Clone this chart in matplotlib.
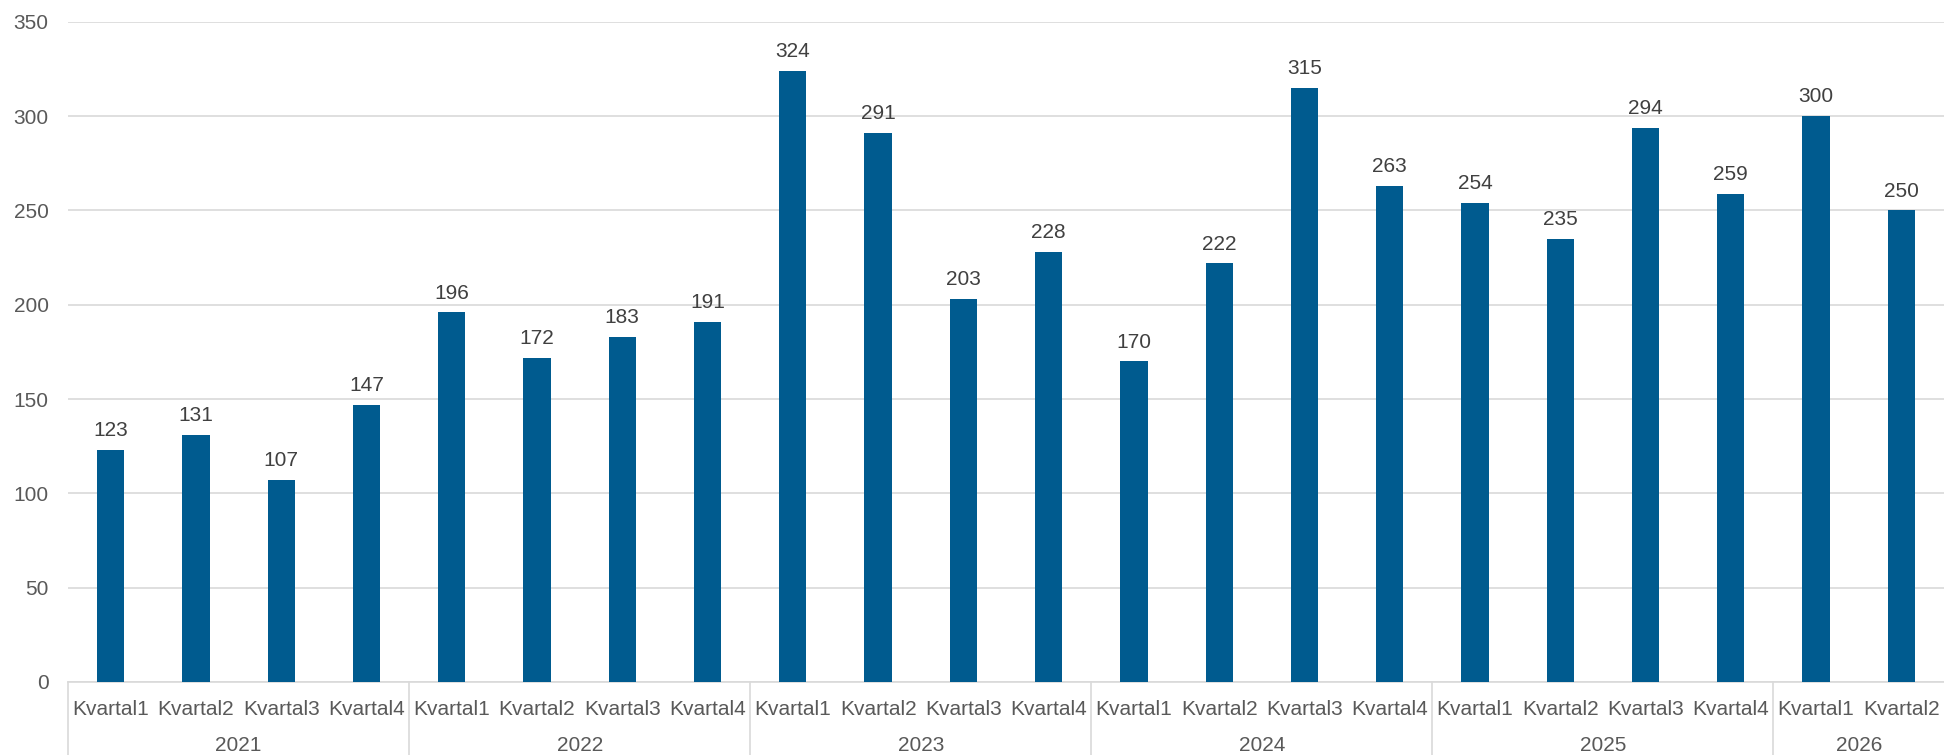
import matplotlib.pyplot as plt
import matplotlib.transforms as mtransforms
import numpy as np

# Data
years = ["2021", "2022", "2023", "2024", "2025", "2026"]
quarters_per_year = [4, 4, 4, 4, 4, 2]
quarter_labels = ["Kvartal1", "Kvartal2", "Kvartal3", "Kvartal4"]
values = [123, 131, 107, 147,
          196, 172, 183, 191,
          324, 291, 203, 228,
          170, 222, 315, 263,
          254, 235, 294, 259,
          300, 250]

bar_color = "#005B8F"
text_color = "#595959"
label_color = "#404040"
grid_color = "#D9D9D9"

plt.rcParams['font.family'] = ['Liberation Sans', 'DejaVu Sans']

fig = plt.figure(figsize=(19.44, 7.55), dpi=100)
ax = fig.add_axes([0.035, 0.0967, 0.965, 0.8743])

x = np.arange(len(values))
bars = ax.bar(x, values, width=0.32, color=bar_color, zorder=3)

for xi, v in zip(x, values):
    ax.annotate(str(v), (xi, v), xytext=(0, 7), textcoords="offset points",
                ha="center", va="bottom", fontsize=15, color=label_color)

ax.set_xlim(-0.5, len(values) - 0.5)
ax.set_ylim(0, 350)
ax.set_yticks(range(0, 351, 50))
ax.yaxis.grid(True, color=grid_color, linewidth=1.2, zorder=0)
ax.tick_params(axis="y", length=0, pad=14, labelsize=15, labelcolor=text_color)

# quarter labels
qlabels = []
for n in quarters_per_year:
    qlabels += quarter_labels[:n]
ax.set_xticks(x)
ax.set_xticklabels(qlabels)
ax.tick_params(axis="x", length=0, pad=13, labelsize=15, labelcolor=text_color)

for side in ["top", "right", "left"]:
    ax.spines[side].set_visible(False)
ax.spines["bottom"].set_color(grid_color)
ax.spines["bottom"].set_linewidth(1.2)

# year group labels and separators
trans = mtransforms.blended_transform_factory(ax.transData, ax.transAxes)
start = 0
for year, n in zip(years, quarters_per_year):
    ax.plot([start - 0.5, start - 0.5], [0, -0.12], transform=trans,
            color=grid_color, linewidth=1.2, clip_on=False)
    ax.text(start + (n - 1) / 2, -0.096, year, transform=trans,
            ha="center", va="center", fontsize=15, color=text_color)
    start += n

fig.savefig("out.png", dpi=100)
